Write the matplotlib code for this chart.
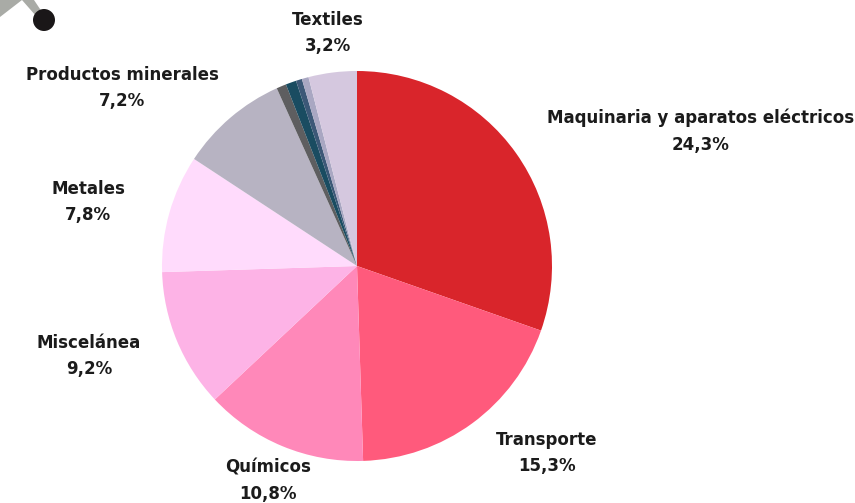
import matplotlib
matplotlib.use("Agg")
import matplotlib.pyplot as plt
from matplotlib.patches import Polygon, Circle

# sector shares (% of total exports); small unlabeled sectors in between
sectors = ["Maquinaria y aparatos eléctricos", "Transporte", "Químicos", "Miscelánea",
           "Metales", "Productos minerales", "", "", "", "", "Textiles"]
shares = [24.3, 15.3, 10.8, 9.2, 7.8, 7.2, 0.65, 0.7, 0.4, 0.45, 3.2]
share_labels = ["24,3%", "15,3%", "10,8%", "9,2%", "7,8%", "7,2%", "", "", "", "", "3,2%"]
colors = ["#D9252B", "#FF5A7C", "#FF88B9", "#FDB3E6", "#FFDBFC", "#B7B3C2",
          "#5E5E60", "#1A4C61", "#3C5877", "#A9A7C2", "#D5C8DF"]

# label centres, in units of the pie radius
label_pos = [(1.764, 0.692), (0.974, -0.959), (-0.456, -1.103), (-1.374, -0.462),
             (-1.379, 0.328), (-1.205, 0.913), None, None, None, None, (-0.149, 1.195)]

W, H = 855, 503
fig = plt.figure(figsize=(W / 100, H / 100), dpi=100)
ax = fig.add_axes([0, 0, 1, 1])

ax.pie(shares, colors=colors, startangle=90, counterclock=False,
       wedgeprops=dict(linewidth=0))

for name, lab, pos in zip(sectors, share_labels, label_pos):
    if pos is None:
        continue
    ax.text(pos[0], pos[1], name + "\n" + lab, ha="center", va="center",
            fontsize=12, fontweight="bold", color="#1b1b1b", linespacing=1.6)

# pie centre at (357, 266) px, radius 195 px
cx, cy, r = 357, 266, 195
ax.set_xlim(-cx / r, (W - cx) / r)
ax.set_ylim(-(H - cy) / r, cy / r)
ax.set_aspect("equal", adjustable="box")
ax.axis("off")

# decoration in the top-left corner (pixel coords, y from top) -> inches
def px(x, y):
    return (x / 100, (H - y) / 100)

tr = fig.dpi_scale_trans
fig.patches.append(Polygon([px(0, 0), px(22, 0), px(0, 17)], closed=True,
                           facecolor="#A9ABA6", edgecolor="none", transform=tr))
fig.patches.append(Polygon([px(22, 0), px(34, 0), px(42, 12), px(36, 16)], closed=True,
                           facecolor="#A9ABA6", edgecolor="none", transform=tr))
fig.patches.append(Circle(px(44, 20), 0.11, facecolor="#1A1718", edgecolor="none",
                          transform=tr))

fig.savefig("out.png", dpi=100)
